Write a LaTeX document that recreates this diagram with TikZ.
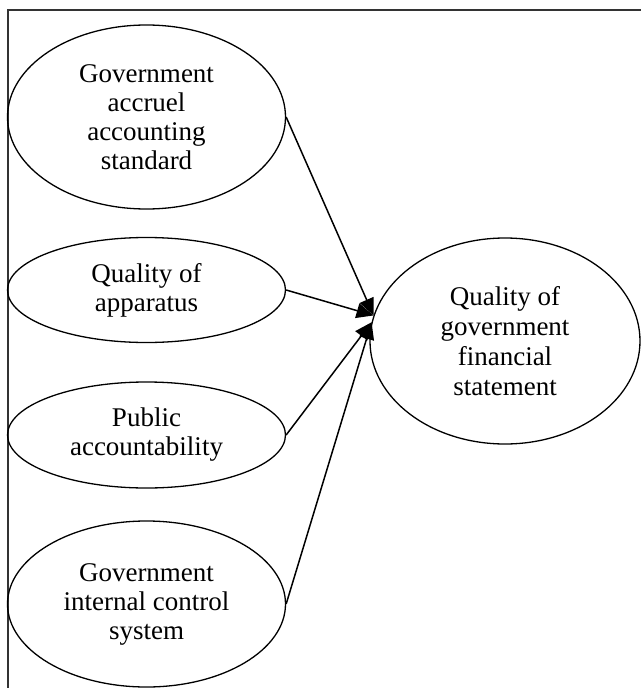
\documentclass[tikz,border=0pt]{standalone}
\usepackage{fontspec}
\setmainfont{Liberation Serif}
\usetikzlibrary{shapes.geometric,arrows.meta,positioning}

\begin{document}
\begin{tikzpicture}[x=1pt,y=-1pt,node distance=170pt,line width=1.3pt,
	main/.style = {draw, ellipse, inner sep=0pt, align=center, minimum width=278pt, font=\fontsize{27pt}{29pt}\selectfont}]
		\useasboundingbox (0,0) rectangle (641,688);
		%Frame (only top and left side are visible)
		\draw[line width=1.7pt,black!80] (8,688) -- (8,10) -- (641,10);
		
		%Create 4 nodes in left column
		\node[main,minimum height=184pt] (1) at (146.5,117) {Government\\accruel\\accounting\\standard};
		\node[main,minimum height=105pt] (2) [node distance=173pt,below of=1] {Quality of\\apparatus};
		\node[main,minimum height=106pt] (3) [node distance=145pt,below of=2] {Public\\accountability};
		\node[main,minimum height=166pt] (4) [node distance=169pt,below of=3] {Government\\internal control\\system};
		%Create dependent node on the right
		\node[main,minimum width=270pt,minimum height=206pt,font=\fontsize{27pt}{30pt}\selectfont] (5) at (505,341) {Quality of\\government\\financial\\statement};
		
		%Edges with direction
		\path [line width=1.5pt,-{Triangle[length=17pt,width=15pt]}] (1.east) edge (5.169); %Edge v1 -> v5
		\path [line width=1.5pt,-{Triangle[length=17pt,width=15pt]}] (2.east) edge (5.169); %Edge v2 -> v5
		\path [line width=1.5pt,-{Triangle[length=17pt,width=15pt]}] (3.east) edge (5.172); %Edge v3 -> v5
		\path [line width=1.5pt,-{Triangle[length=17pt,width=15pt]}] (4.east) edge (5.172); %Edge v4 -> v5
		
	\end{tikzpicture}
\end{document}
